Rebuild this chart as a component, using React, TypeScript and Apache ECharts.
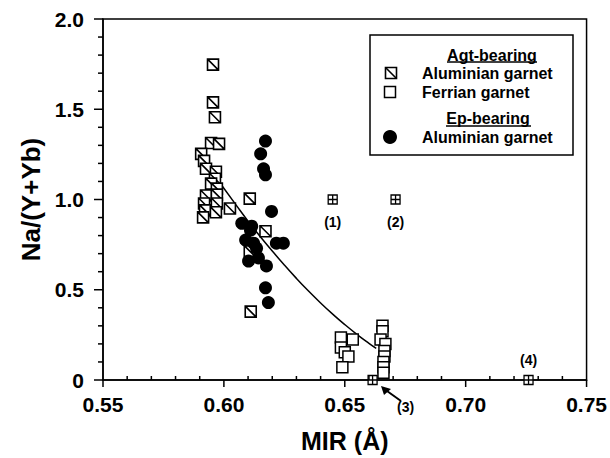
import React, { useEffect, useRef } from "react";
import * as echarts from "echarts";

// Agt-bearing, aluminian garnet (square with diagonal)
const agtAluminian: [number, number][] = [
  [0.5955, 1.747], [0.5955, 1.538], [0.5963, 1.456], [0.5947, 1.313], [0.598, 1.308],
  [0.5906, 1.253], [0.5918, 1.214], [0.5926, 1.17], [0.5967, 1.154], [0.5963, 1.115],
  [0.5947, 1.088], [0.5971, 1.06], [0.5926, 1.022], [0.5971, 1.027], [0.5918, 0.978],
  [0.5971, 0.978], [0.5922, 0.94], [0.5967, 0.929], [0.6025, 0.95], [0.5914, 0.901],
  [0.6107, 1.005], [0.6172, 0.824], [0.6107, 0.714], [0.6111, 0.379],
];

// Agt-bearing, ferrian garnet (open square)
const ferrian: [number, number][] = [
  [0.6484, 0.236], [0.6533, 0.225], [0.6484, 0.18], [0.65, 0.154], [0.6515, 0.13],
  [0.649, 0.07], [0.6656, 0.3], [0.6656, 0.27], [0.6648, 0.225], [0.6668, 0.2],
  [0.6664, 0.16], [0.6664, 0.13], [0.666, 0.1], [0.666, 0.07], [0.666, 0.04],
];

// Ep-bearing, aluminian garnet (filled circle)
const epAluminian: [number, number][] = [
  [0.6172, 1.324], [0.6152, 1.253], [0.6164, 1.17], [0.6172, 1.137], [0.6197, 0.934],
  [0.6074, 0.868], [0.6115, 0.852], [0.611, 0.83], [0.609, 0.775], [0.6123, 0.758],
  [0.6135, 0.73], [0.6217, 0.758], [0.6246, 0.758], [0.6102, 0.659], [0.6143, 0.676],
  [0.6176, 0.632], [0.6172, 0.511], [0.6184, 0.429],
];

// reference points (1)-(4)
const refPoints: [number, number][] = [[0.645, 1.0], [0.671, 1.0], [0.6615, 0], [0.726, 0]];
const refLabels = ["(1)", "(2)", "(3)", "(4)"];

// fitted trend curve
const curveX = [0.599, 0.605, 0.61, 0.615, 0.62, 0.625, 0.63, 0.635, 0.64, 0.645, 0.65, 0.655, 0.66, 0.663];
const curveY = [1.08, 0.97, 0.88, 0.795, 0.715, 0.637, 0.563, 0.493, 0.427, 0.365, 0.307, 0.253, 0.203, 0.175];

// axis tick positions
const xMajorTicks = [0.55, 0.6, 0.65, 0.7, 0.75];
const xMinorTicks = [0.56, 0.57, 0.58, 0.59, 0.61, 0.62, 0.63, 0.64, 0.66, 0.67, 0.68, 0.69, 0.71, 0.72, 0.73, 0.74];
const yMajorTicks = [0, 0.5, 1, 1.5, 2];
const yMinorTicks = [0.1, 0.2, 0.3, 0.4, 0.6, 0.7, 0.8, 0.9, 1.1, 1.2, 1.3, 1.4, 1.6, 1.7, 1.8, 1.9];

const FONT = "Liberation Sans, Arial, Helvetica, sans-serif";
const DIAG = "path://M0,0L10,0L10,10L0,10Z M0,0L10,10";
const CROSS = "path://M0,0L10,0L10,10L0,10Z M5,0L5,10 M0,5L10,5";

export default function App() {
  const ref = useRef<HTMLDivElement>(null);
  useEffect(() => {
    document.body.style.margin = "0";
    const chart = echarts.init(ref.current!, null, { renderer: "svg" });
    const txt = { fontFamily: FONT, fontWeight: "bold" as const, color: "#000" };
    const legendText = (x: number, y: number, s: string, align = "left") => ({
      type: "text", x, y,
      style: { text: s, fill: "#000", font: `bold 16px ${FONT}`, textAlign: align, textVerticalAlign: "middle" },
    });
    const xTickData = [
      ...xMajorTicks.map((v) => [v, 0, 1]),
      ...xMinorTicks.map((v) => [v, 0, 0]),
    ];
    const yTickData = [
      ...yMajorTicks.map((v) => [0.55, v, 1]),
      ...yMinorTicks.map((v) => [0.55, v, 0]),
    ];
    chart.setOption({
      animation: false,
      backgroundColor: "#fff",
      grid: { left: 103, right: 19, top: 19, bottom: 75, show: true, borderColor: "#000", borderWidth: 1.5 },
      xAxis: {
        type: "value", min: 0.55, max: 0.75, interval: 0.05,
        name: "MIR (Å)", nameLocation: "middle", nameGap: 48,
        nameTextStyle: { ...txt, fontSize: 25 },
        axisLine: { show: true, lineStyle: { color: "#000", width: 1.5 } },
        axisTick: { show: false },
        splitLine: { show: false },
        axisLabel: { show: true, ...txt, fontSize: 21, margin: 14, formatter: (v: number) => v.toFixed(2) },
      },
      yAxis: {
        type: "value", min: 0, max: 2, interval: 0.5,
        name: "Na/(Y+Yb)", nameLocation: "middle", nameGap: 53,
        nameTextStyle: { ...txt, fontSize: 26 },
        axisLine: { show: true, lineStyle: { color: "#000", width: 1.5 } },
        axisTick: { show: false },
        splitLine: { show: false },
        axisLabel: { show: true, ...txt, fontSize: 21, margin: 19, formatter: (v: number) => (v === 0 ? "0" : v.toFixed(1)) },
      },
      series: [
        {
          type: "custom", data: xTickData, clip: false, silent: true, z: 6,
          renderItem: (_p: any, api: any) => {
            const pt = api.coord([api.value(0), api.value(1)]);
            const len = api.value(2) ? 7 : -4;
            return { type: "line", shape: { x1: pt[0], y1: pt[1], x2: pt[0], y2: pt[1] + len }, style: { stroke: "#000", lineWidth: 1.5 } };
          },
        },
        {
          type: "custom", data: yTickData, clip: false, silent: true, z: 6,
          renderItem: (_p: any, api: any) => {
            const pt = api.coord([api.value(0), api.value(1)]);
            const len = api.value(2) ? 9 : 5;
            return { type: "line", shape: { x1: pt[0], y1: pt[1], x2: pt[0] - len, y2: pt[1] }, style: { stroke: "#000", lineWidth: 1.5 } };
          },
        },
        {
          type: "line", data: curveX.map((x, i) => [x, curveY[i]]), smooth: true, showSymbol: false,
          symbol: "none", lineStyle: { color: "#000", width: 1.5 }, z: 1,
        },
        {
          type: "scatter", data: ferrian, symbol: "rect", symbolSize: 11, clip: false,
          itemStyle: { color: "#fff", borderColor: "#000", borderWidth: 1.5, opacity: 1 }, z: 2,
        },
        {
          type: "scatter", data: agtAluminian, symbol: DIAG, symbolSize: 11, clip: false,
          itemStyle: { color: "#fff", borderColor: "#000", borderWidth: 1.6, opacity: 1 }, z: 3,
        },
        {
          type: "scatter", data: epAluminian, symbol: "circle", symbolSize: 13, clip: false,
          itemStyle: { color: "#000", opacity: 1 }, z: 4,
        },
        {
          type: "scatter", symbol: CROSS, symbolSize: 9, clip: false,
          itemStyle: { color: "#fff", borderColor: "#000", borderWidth: 1.3, opacity: 1 }, z: 5,
          label: { show: true, ...txt, fontSize: 14, formatter: (p: any) => p.name },
          data: refPoints.map((p, i) => ({
            name: refLabels[i], value: p,
            label: i === 3 ? { position: "top", distance: 8, color: "#000" }
              : i === 2 ? { position: "inside", offset: [33, 27], color: "#000" }
              : { position: "bottom", distance: 10, color: "#000" },
          })),
        },
      ],
      graphic: [
        { type: "rect", shape: { x: 370, y: 35, width: 203, height: 120 }, style: { fill: "#fff", stroke: "#000", lineWidth: 1.5 }, z: 10 },
        { ...legendText(492, 55, "Agt-bearing", "center"), z: 11 },
        { type: "line", shape: { x1: 447, y1: 62, x2: 537, y2: 62 }, style: { stroke: "#000", lineWidth: 1.3 }, z: 11 },
        { type: "rect", shape: { x: 385.5, y: 67.5, width: 11, height: 11 }, style: { fill: "#fff", stroke: "#000", lineWidth: 1.6 }, z: 11 },
        { type: "line", shape: { x1: 385.5, y1: 67.5, x2: 396.5, y2: 78.5 }, style: { stroke: "#000", lineWidth: 1.6 }, z: 11 },
        { ...legendText(422, 73, "Aluminian garnet"), z: 11 },
        { type: "rect", shape: { x: 384.5, y: 86.5, width: 11, height: 11 }, style: { fill: "#fff", stroke: "#000", lineWidth: 1.5 }, z: 11 },
        { ...legendText(422, 92, "Ferrian garnet"), z: 11 },
        { ...legendText(488, 118, "Ep-bearing", "center"), z: 11 },
        { type: "line", shape: { x1: 446, y1: 126, x2: 531, y2: 126 }, style: { stroke: "#000", lineWidth: 1.3 }, z: 11 },
        { type: "circle", shape: { cx: 390, cy: 137, r: 7 }, style: { fill: "#000" }, z: 11 },
        { ...legendText(422, 137, "Aluminian garnet"), z: 11 },
        // arrow pointing at (3)
        { type: "line", shape: { x1: 401, y1: 401, x2: 387, y2: 391 }, style: { stroke: "#000", lineWidth: 2 }, z: 11 },
        { type: "polygon", shape: { points: [[381, 386], [384, 395], [391, 389]] }, style: { fill: "#000" }, z: 11 },
      ],
    });
    return () => chart.dispose();
  }, []);
  return <div ref={ref} style={{ position: "absolute", left: 0, top: 0, width: 610, height: 458 }} />;
}
